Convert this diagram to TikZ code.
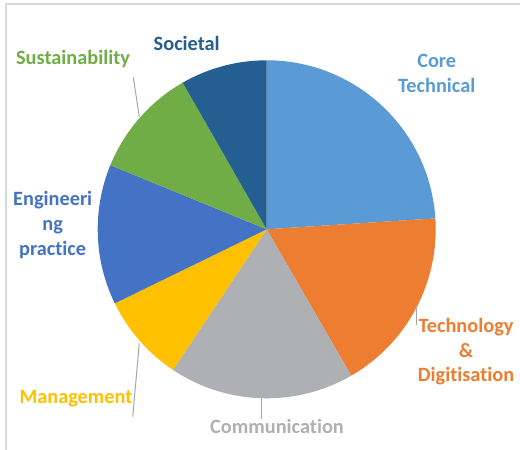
\documentclass[tikz,border=0pt]{standalone}
\usepackage{fontspec}
\setmainfont[Ligatures=NoCommon]{Carlito}
\definecolor{cCore}{HTML}{5B9BD5}
\definecolor{cTech}{HTML}{ED7D31}
\definecolor{cComm}{HTML}{AFB0B3}
\definecolor{cMan}{HTML}{FFC000}
\definecolor{cEng}{HTML}{4472C4}
\definecolor{cSus}{HTML}{70AD47}
\definecolor{cSoc}{HTML}{255E91}
\definecolor{cFrame}{HTML}{D9D9D9}
\definecolor{cLead}{HTML}{A6A6A6}
\begin{document}
\begin{tikzpicture}[x=1bp,y=-1bp,
  lab/.style={font=\fontsize{20.4}{24.8}\selectfont\bfseries, align=center, inner sep=0pt},
  leader/.style={draw=cLead, line width=1bp}]
\useasboundingbox (0,0) rectangle (520,450);
\fill[white] (0,0) rectangle (520,450);
\draw[cFrame, line width=1.5bp] (6,450) -- (6,4) -- (520,4);
\coordinate (c) at (266.7,229.3);
\def\R{169}
\fill[cCore] (c) -- ++(-3.7:\R) arc[start angle=-3.7, end angle=-90, radius=\R] -- cycle;
\fill[cTech] (c) -- ++(60:\R) arc[start angle=60, end angle=-3.7, radius=\R] -- cycle;
\fill[cComm] (c) -- ++(123.7:\R) arc[start angle=123.7, end angle=60, radius=\R] -- cycle;
\fill[cMan] (c) -- ++(154:\R) arc[start angle=154, end angle=123.7, radius=\R] -- cycle;
\fill[cEng] (c) -- ++(202.3:\R) arc[start angle=202.3, end angle=154, radius=\R] -- cycle;
\fill[cSus] (c) -- ++(240.2:\R) arc[start angle=240.2, end angle=202.3, radius=\R] -- cycle;
\fill[cSoc] (c) -- ++(270:\R) arc[start angle=270, end angle=240.2, radius=\R] -- cycle;
% labels
\node[lab, text=cSoc] (soc) at (186.7,43.3) {Societal};
\node[lab, text=cSus] (sus) at (73,59) {Sustainability};
\node[lab, text=cCore] (core) at (436.7,73.5) {Core\\Technical};
\node[lab, text=cEng] (eng) at (52.7,225) {Engineeri\\ng\\practice};
\node[lab, text=cMan] (man) at (76,399) {Management};
\node[lab, text=cComm] (com) at (277,426.7) {Communication};
\node[lab, text=cTech] (tech) at (466,351.8) {Technology\\\&\\Digitisation};
% leader lines
\coordinate (susA) at (133.3,77.3); \coordinate (susB) at (139.3,116.7);
\draw[leader] (susA) -- (susB);
\coordinate (manA) at (139.3,343.3); \coordinate (manB) at (132.7,416.7);
\draw[leader] (manA) -- (manB);
\coordinate (comA) at (261.3,398.3); \coordinate (comB) at (261.3,419.3);
\draw[leader] (comA) -- (comB);
\coordinate (techA) at (416.7,308); \coordinate (techB) at (416.7,325);
\draw[leader] (techA) -- (techB);
\end{tikzpicture}
\end{document}
